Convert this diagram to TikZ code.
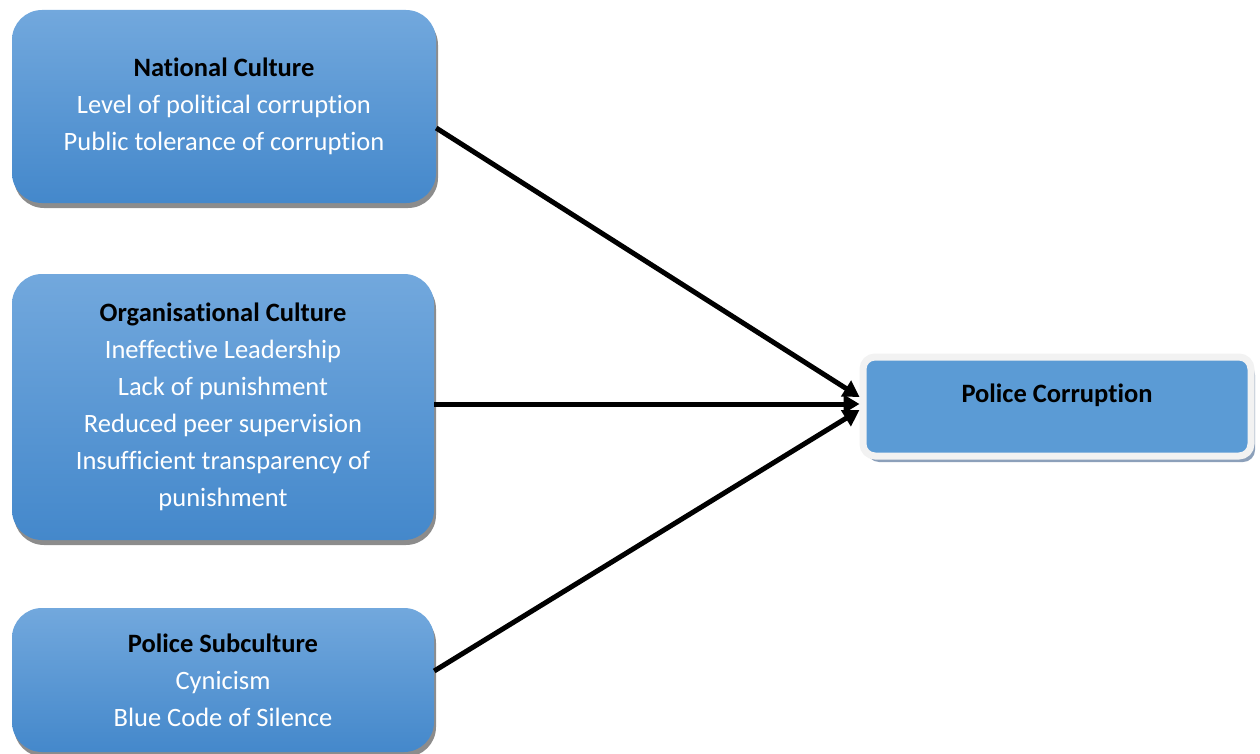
\documentclass[tikz,border=0pt]{standalone}
\usepackage{fontspec}
\setmainfont{Carlito}[Ligatures=NoCommon]
\usetikzlibrary{arrows.meta}
\usetikzlibrary{shadows}
\definecolor{boxtop}{RGB}{114,168,221}
\definecolor{boxbot}{RGB}{68,136,203}
\definecolor{pcfill}{RGB}{91,155,213}
\definecolor{pcrim}{RGB}{242,242,242}
\definecolor{pcshadow}{RGB}{140,160,186}
\tikzset{
    cause/.style = {align=center, inner sep=0pt, rounded corners=30pt, top color=boxtop, bottom color=boxbot, text=white,
        font=\fontsize{26.5}{37}\selectfont,
        drop shadow={shadow xshift=2pt, shadow yshift=-5pt, fill=black!45, opacity=1}},
    effect/.style = {align=center, inner sep=0pt, rounded corners=12pt, fill=pcfill, draw=pcrim, line width=7pt,
        font=\fontsize{26.5}{37}\selectfont\bfseries,
        drop shadow={shadow xshift=4pt, shadow yshift=-6pt, fill=pcshadow, opacity=1}},
    link/.style = {-{Triangle[length=16pt,width=18pt]}, line width=5pt}
}
\newcommand{\heading}[1]{\textcolor{black}{\textbf{#1}}}

\begin{document}
\begin{tikzpicture}[x=1pt, y=-1pt]
    \useasboundingbox (0,0) rectangle (1260,754);

    % causes
    \node (National) [cause, minimum width=424pt, minimum height=193pt] at (224,106.5)
        {\heading{National Culture}\\Level of political corruption\\Public tolerance of corruption};
    \node (Organisational) [cause, minimum width=422pt, minimum height=266pt] at (223,407)
        {\heading{Organisational Culture}\\Ineffective Leadership\\Lack of punishment\\Reduced peer supervision\\Insufficient transparency of\\punishment};
    \node (Subculture) [cause, minimum width=422pt, minimum height=144pt] at (223,680)
        {\heading{Police Subculture}\\Cynicism\\Blue Code of Silence};

    % effect
    \node (Corruption) [effect, minimum width=388pt, minimum height=99pt] at (1057,406.5)
        {Police Corruption\\[-10pt]\mbox{}};

    \draw [link] ([yshift=-21.5pt]National.east) -- ([yshift=9.5pt]Corruption.west);
    \draw [link] ([yshift=3pt]Organisational.east) -- ([yshift=2.5pt]Corruption.west);
    \draw [link] ([yshift=9pt]Subculture.east) -- ([yshift=-3.5pt]Corruption.west);
\end{tikzpicture}
\end{document}
